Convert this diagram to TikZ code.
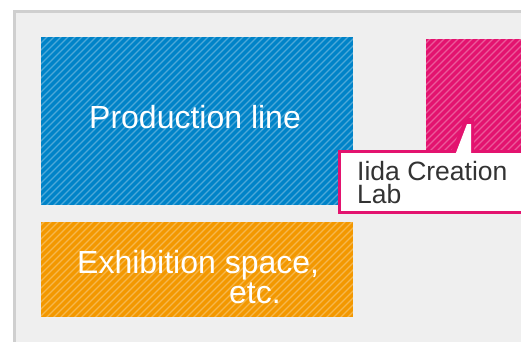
\documentclass[tikz,border=0pt]{standalone}
\usepackage{fontspec}
\setmainfont{Liberation Sans}
\definecolor{bgfill}{HTML}{EFEFEF}
\definecolor{frameg}{HTML}{CFCFCF}
\definecolor{prodblue}{HTML}{0083C8}
\definecolor{labpink}{HTML}{E3136F}
\definecolor{exhorange}{HTML}{F39800}
\definecolor{textgrey}{HTML}{333333}
\tikzset{
  hatchline/.style={draw=white, draw opacity=0.3, line width=1.3pt},
  boxlabel/.style={text=white, inner sep=0pt, anchor=base west, font=\fontsize{32}{36}\selectfont},
  calltext/.style={text=textgrey, inner sep=0pt, anchor=north west, align=left, font=\fontsize{26.5}{23}\selectfont},
}
\begin{document}
\begin{tikzpicture}[x=1pt,y=-1pt]
\useasboundingbox (0,0) rectangle (521,342);
\fill[white] (0,0) rectangle (521,342);
% frame
\fill[frameg] (13,10) rectangle (521,342);
\fill[bgfill] (16,13) rectangle (521,342);
% blue
\begin{scope}
\fill[prodblue] (41,37) rectangle (353,205);
\clip (41,37) rectangle (353,205);
\foreach \i in {-342,-335,...,521} \draw[hatchline] (\i,342) -- ++(342,-342);
\end{scope}
% orange
\begin{scope}
\fill[exhorange] (41,222) rectangle (353,317);
\clip (41,222) rectangle (353,317);
\foreach \i in {-342,-335,...,521} \draw[hatchline] (\i,342) -- ++(342,-342);
\end{scope}
% pink
\begin{scope}
\fill[labpink] (426,39) rectangle (521,170);
\clip (426,39) rectangle (521,170);
\foreach \i in {-342,-335,...,521} \draw[hatchline] (\i,342) -- ++(342,-342);
\end{scope}
% callout
\fill[labpink] (338,150) rectangle (523,214);
\fill[labpink] (451,152) -- (465,118) -- (474,118) -- (474,152) -- cycle;
\fill[white] (341,153) rectangle (523,211);
\fill[white] (455.5,154) -- (467,124) -- (471,124) -- (471,154) -- cycle;
% texts
\node[boxlabel] (prod) at (89,128) {Production line};
\node[boxlabel] (exh1) at (77,273) {Exhibition space,};
\node[boxlabel] (exh2) at (229,303) {etc.};
\node[calltext] (lab) at (357,160.8) {Iida Creation\\Lab};
\end{tikzpicture}
\end{document}
